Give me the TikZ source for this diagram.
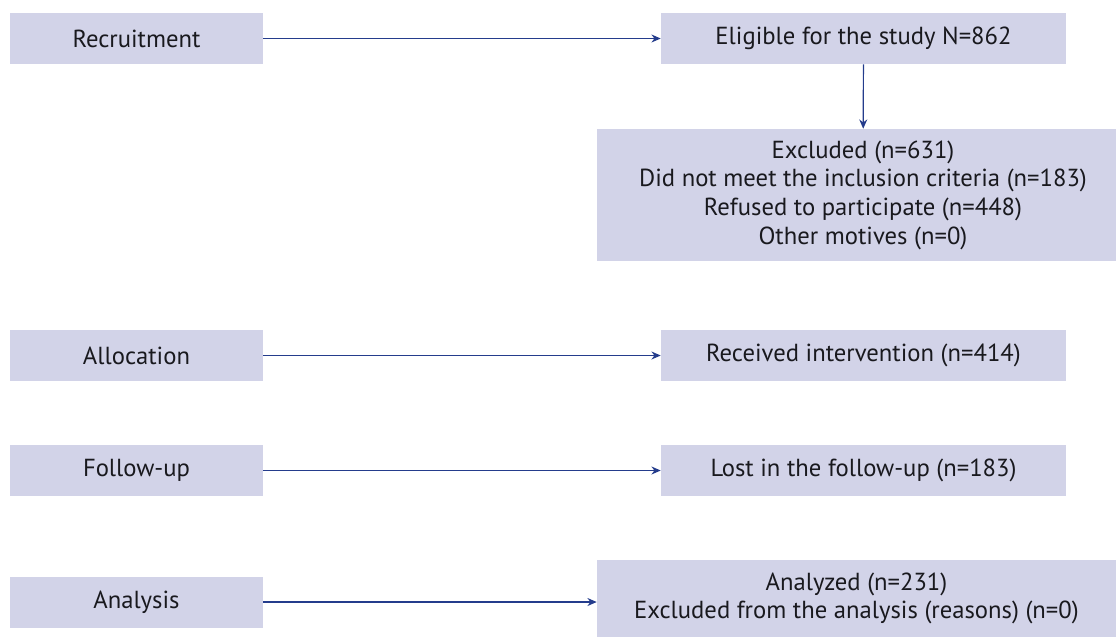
\documentclass[tikz,border=0pt]{standalone}
\usepackage{fontspec}
\setmainfont{PT Sans}
\usetikzlibrary{arrows.meta}

\definecolor{boxfill}{RGB}{210,211,232}
\definecolor{flowblue}{RGB}{36,60,140}
\definecolor{textdark}{RGB}{25,25,30}

\begin{document}
\begin{tikzpicture}[x=0.75pt,y=-0.75pt,
    every node/.style={font=\fontsize{18.5}{21.5}\selectfont, text=textdark},
    stagebox/.style={fill=boxfill, minimum width=189.75pt, minimum height=38.25pt},
    countbox/.style={fill=boxfill, minimum width=303.75pt, minimum height=38.25pt},
    widebox/.style={fill=boxfill, align=center, minimum width=399pt},
    flow/.style={draw=flowblue, line width=0.9pt, -{Stealth[length=7pt,width=6pt]}}]
    \useasboundingbox (0,0) rectangle (1116,637);

    % phases on the left
    \node[stagebox] (recruit) at (136.5,38.5) {Recruitment};
    \node[stagebox] (alloc) at (136.5,355.5) {Allocation};
    \node[stagebox] (follow) at (136.5,470.5) {Follow-up};
    \node[stagebox] (analysis) at (136.5,602) {Analysis};

    % counts on the right
    \node[countbox] (eligible) at (863.5,38.5) {Eligible for the study N=862};
    \node[widebox, minimum height=99pt] (excluded) at (863,195)
        {Excluded (n=631)\\Did not meet the inclusion criteria (n=183)\\Refused to participate (n=448)\\Other motives (n=0)};
    \node[countbox] (received) at (863.5,355.5) {Received intervention (n=414)};
    \node[countbox] (lost) at (863.5,470.5) {Lost in the follow-up (n=183)};
    \node[widebox, minimum width=389.25pt, minimum height=57.75pt] (analyzed) at (856.5,598.5)
        {Analyzed (n=231)\\Excluded from the analysis (reasons) (n=0)};

    \draw[flow] (recruit) -- (eligible);
    \draw[flow] (eligible) -- (excluded);
    \draw[flow] (alloc) -- (received);
    \draw[flow] (follow) -- (lost);
    \draw[flow] (analysis.east) -- (analysis.east -| analyzed.west);
\end{tikzpicture}
\end{document}
